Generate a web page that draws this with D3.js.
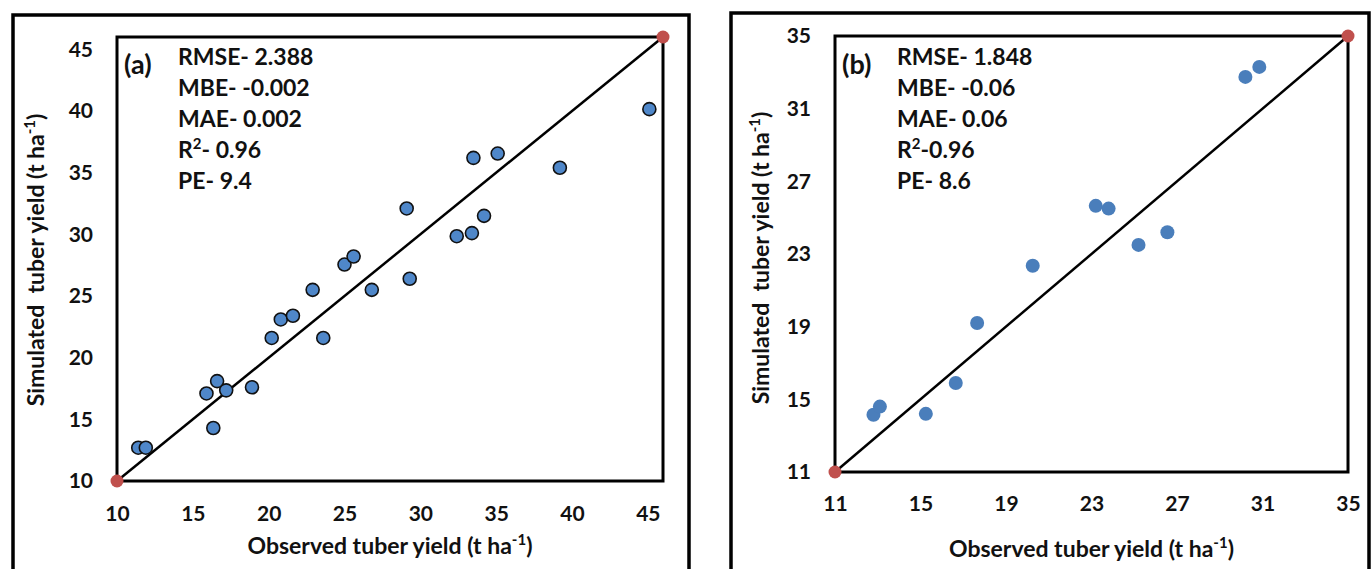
<!DOCTYPE html>
<html>
<head>
<meta charset="utf-8">
<script src="https://cdn.jsdelivr.net/npm/d3@7"></script>
<style>
  body { margin: 0; background: #fff; }
  svg { display: block; font-family: Lato, "Open Sans", sans-serif; }
  text { white-space: pre; }
</style>
</head>
<body>
<svg width="1372" height="569"></svg>
<script>
// panel (a) observed vs simulated
var obsA = [11.4, 11.9, 15.9, 16.6, 17.2, 18.9, 16.35, 20.2, 20.8, 21.6, 23.6,
            22.9, 26.8, 25.0, 25.6, 29.3, 29.1, 32.4, 33.4, 34.2, 33.5, 35.1, 39.2, 45.1];
var simA = [12.7, 12.7, 17.1, 18.1, 17.35, 17.6, 14.3, 21.6, 23.1, 23.4, 21.6,
            25.5, 25.5, 27.55, 28.2, 26.4, 32.1, 29.85, 30.1, 31.5, 36.2, 36.55, 35.4, 40.15];
var ticksA = [10, 15, 20, 25, 30, 35, 40, 45];
var statsA = ["RMSE- 2.388", "MBE- -0.002", "MAE- 0.002", ["R", "2", "- 0.96"], "PE- 9.4"];

// panel (b)
var obsB = [12.8, 13.1, 15.25, 16.65, 17.65, 20.25, 23.2, 23.8, 25.2, 26.55, 30.2, 30.85];
var simB = [14.15, 14.6, 14.2, 15.9, 19.2, 22.35, 25.65, 25.5, 23.5, 24.2, 32.75, 33.3];
var ticksB = [11, 15, 19, 23, 27, 31, 35];
var statsB = ["RMSE- 1.848", "MBE- -0.06", "MAE- 0.06", ["R", "2", "-0.96"], "PE- 8.6"];

var svg = d3.select("svg");

function panel(cfg) {
  var g = svg.append("g");

  // outer frame
  g.append("rect")
    .attr("x", cfg.frame[0]).attr("y", cfg.frame[1])
    .attr("width", cfg.frame[2]).attr("height", cfg.frame[3])
    .attr("fill", "none").attr("stroke", "#000").attr("stroke-width", 3.5);

  var x = d3.scaleLinear().domain(cfg.domain).range([cfg.left, cfg.right]);
  var y = d3.scaleLinear().domain(cfg.domain).range([cfg.bottom, cfg.top]);

  var xAxis = g.append("g")
    .attr("transform", "translate(0," + cfg.bottom + ")")
    .call(d3.axisBottom(x).tickValues(cfg.ticks).tickSize(0).tickPadding(cfg.xPad));
  var yAxis = g.append("g")
    .attr("transform", "translate(" + cfg.left + ",0)")
    .call(d3.axisLeft(y).tickValues(cfg.ticks).tickSize(0).tickPadding(24));
  [xAxis, yAxis].forEach(function(a) {
    a.select(".domain").remove();
    a.selectAll("text").attr("font-size", 21).attr("font-weight", "bold")
      .attr("font-family", "Lato, sans-serif").attr("fill", "#111");
  });

  // plot area border
  g.append("rect")
    .attr("x", cfg.left).attr("y", cfg.top)
    .attr("width", cfg.right - cfg.left).attr("height", cfg.bottom - cfg.top)
    .attr("fill", "none").attr("stroke", "#000").attr("stroke-width", 3);

  // 1:1 line
  g.append("line")
    .attr("x1", x(cfg.domain[0])).attr("y1", y(cfg.domain[0]))
    .attr("x2", x(cfg.domain[1])).attr("y2", y(cfg.domain[1]))
    .attr("stroke", "#000").attr("stroke-width", 2.5);

  // points
  g.selectAll("circle.pt")
    .data(cfg.obs.map(function(d, i) { return [d, cfg.sim[i]]; }))
    .enter().append("circle")
    .attr("class", "pt")
    .attr("cx", function(d) { return x(d[0]); })
    .attr("cy", function(d) { return y(d[1]); })
    .attr("r", cfg.r)
    .attr("fill", cfg.fill)
    .attr("stroke", cfg.stroke)
    .attr("stroke-width", 1.6);

  // red end points
  g.selectAll("circle.end")
    .data([cfg.domain[0], cfg.domain[1]])
    .enter().append("circle")
    .attr("class", "end")
    .attr("cx", function(d) { return x(d); })
    .attr("cy", function(d) { return y(d); })
    .attr("r", 6.5)
    .attr("fill", "#c0504d");

  // label + stats
  g.append("text")
    .attr("x", cfg.left + 7).attr("y", 74)
    .attr("font-size", 27).attr("font-weight", "bold").attr("fill", "#111")
    .text(cfg.tag);

  cfg.stats.forEach(function(s, i) {
    var t = g.append("text")
      .attr("x", cfg.statX).attr("y", 65 + i * 31)
      .attr("font-size", 23).attr("font-weight", "bold").attr("fill", "#111");
    if (typeof s === "string") {
      t.text(s);
    } else {
      t.append("tspan").text(s[0]);
      t.append("tspan").attr("font-size", 15).attr("dy", -9).text(s[1]);
      t.append("tspan").attr("dy", 9).text(s[2]);
    }
  });

  // axis titles
  var xt = g.append("text")
    .attr("x", (cfg.left + cfg.right) / 2).attr("y", cfg.xTitleY)
    .attr("text-anchor", "middle")
    .attr("font-size", 23).attr("font-weight", "bold").attr("fill", "#111");
  xt.append("tspan").text("Observed tuber yield (t ha");
  xt.append("tspan").attr("font-size", 15).attr("dy", -9).text("-1");
  xt.append("tspan").attr("dy", 9).text(")");

  var yt = g.append("text")
    .attr("transform", "translate(" + cfg.yTitleX + "," + cfg.yTitleMid + ") rotate(-90)")
    .attr("text-anchor", "middle")
    .attr("font-size", 23).attr("font-weight", "bold").attr("fill", "#111");
  yt.append("tspan").text("Simulated  tuber yield (t ha");
  yt.append("tspan").attr("font-size", 15).attr("dy", -9).text("-1");
  yt.append("tspan").attr("dy", 9).text(")");
}

panel({
  frame: [13, 15, 676, 575],
  domain: [10, 46], ticks: ticksA,
  left: 117, right: 663, top: 37, bottom: 481,
  xPad: 25, xTitleY: 554, yTitleX: 44, yTitleMid: 260,
  obs: obsA, sim: simA, r: 6.5, fill: "#4f87c9", stroke: "#111",
  tag: "(a)", stats: statsA, statX: 178
});

panel({
  frame: [731, 13, 638, 580],
  domain: [11, 35], ticks: ticksB,
  left: 835, right: 1348, top: 36, bottom: 472,
  xPad: 24, xTitleY: 557, yTitleX: 769, yTitleMid: 258,
  obs: obsB, sim: simB, r: 7, fill: "#4a7ebb", stroke: "none",
  tag: "(b)", stats: statsB, statX: 897
});
</script>
</body>
</html>
